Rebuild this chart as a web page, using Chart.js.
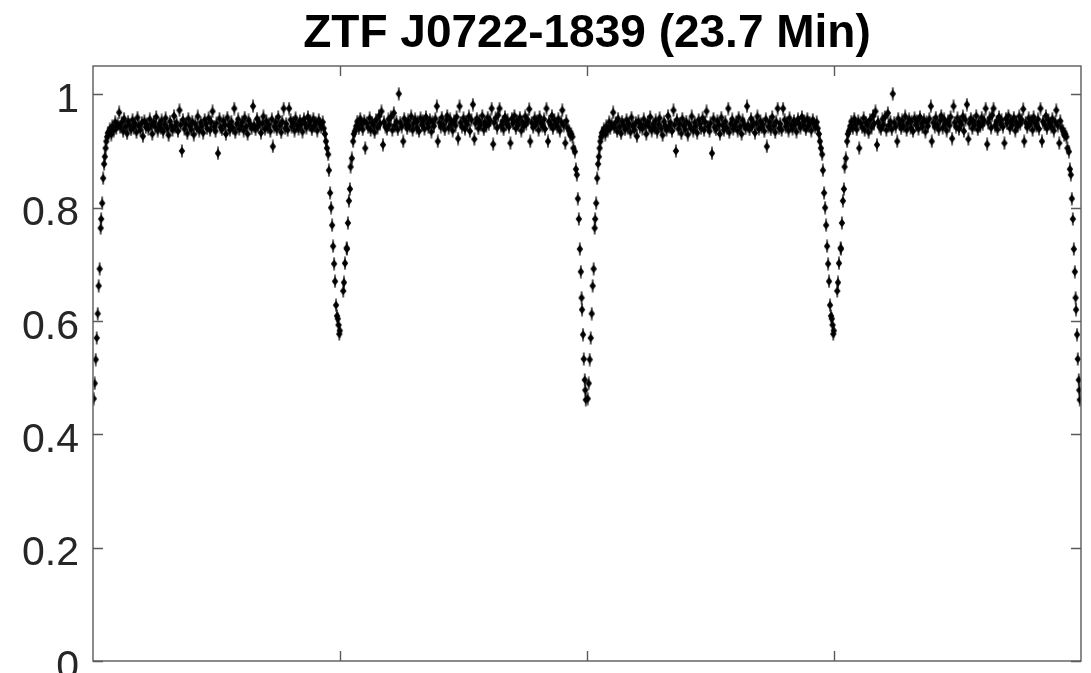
<!DOCTYPE html>
<html>
<head>
<meta charset="utf-8">
<title>ZTF J0722-1839</title>
<script src="https://cdn.jsdelivr.net/npm/chart.js@4.4.0/dist/chart.umd.min.js"></script>
<style>
  html, body { margin: 0; padding: 0; background: #fff; }
  #wrap { width: 1091px; height: 673px; }
</style>
</head>
<body>
<div id="wrap"><canvas id="lc" width="1091" height="673"></canvas></div>
<script>
var chartTitle = 'ZTF J0722-1839 (23.7 Min)';

// one folded period, plotted twice (phase and phase + 1)
var phase = [
  // deep eclipse egress
  0.0015, 0.0035, 0.0055, 0.0075, 0.0095, 0.0115, 0.0135, 0.0155, 0.0165, 0.0185,
  0.0205, 0.0225, 0.0240, 0.0255, 0.0270, 0.0285, 0.0300,
  // out of eclipse
  0.032, 0.034, 0.037, 0.039, 0.042, 0.045, 0.047, 0.050, 0.053, 0.055,
  0.058, 0.061, 0.063, 0.066, 0.069, 0.071, 0.074, 0.077, 0.080, 0.082,
  0.085, 0.088, 0.090, 0.093, 0.096, 0.099, 0.101, 0.104, 0.107, 0.109,
  0.112, 0.115, 0.118, 0.120, 0.123, 0.126, 0.128, 0.131, 0.134, 0.137,
  0.139, 0.142, 0.145, 0.147, 0.150, 0.153, 0.156, 0.158, 0.161, 0.164,
  0.166, 0.169, 0.172, 0.175, 0.177, 0.180, 0.182, 0.185, 0.188, 0.191,
  0.193, 0.196, 0.199, 0.201, 0.204, 0.207, 0.210, 0.212, 0.215, 0.218,
  0.220, 0.223, 0.226, 0.229, 0.231, 0.234, 0.237, 0.239, 0.242, 0.245,
  0.248, 0.250, 0.253, 0.256, 0.258, 0.261, 0.264, 0.267, 0.269, 0.272,
  0.275, 0.277, 0.280, 0.283, 0.286, 0.288, 0.291, 0.294, 0.296, 0.299,
  0.302, 0.305, 0.307, 0.310, 0.313, 0.315, 0.318, 0.321, 0.324, 0.326,
  0.329, 0.332, 0.334, 0.337, 0.340, 0.343, 0.345, 0.348, 0.351, 0.353,
  0.356, 0.359, 0.362, 0.364, 0.367, 0.370, 0.372, 0.375, 0.378, 0.381,
  0.383, 0.386, 0.389, 0.391, 0.394, 0.397, 0.400, 0.402, 0.405, 0.408,
  0.410, 0.413, 0.416, 0.419, 0.421, 0.424, 0.427, 0.429, 0.432, 0.435,
  0.438, 0.440, 0.443, 0.446, 0.448, 0.451, 0.454, 0.457, 0.459, 0.462,
  0.465, 0.467,
  // shallow eclipse
  0.4695, 0.4715, 0.4735, 0.4760, 0.4775, 0.4800, 0.4820, 0.4840, 0.4860, 0.4880,
  0.4900, 0.4920, 0.4940, 0.4955, 0.4970, 0.4985, 0.4995,
  0.5065, 0.5080, 0.5100, 0.5135, 0.5140, 0.5160, 0.5180, 0.5200, 0.5215, 0.5240,
  0.5265, 0.5280,
  // out of eclipse
  0.530, 0.533, 0.535, 0.538, 0.541, 0.543, 0.546, 0.549, 0.551, 0.554,
  0.557, 0.560, 0.562, 0.565, 0.568, 0.570, 0.573, 0.576, 0.579, 0.581,
  0.584, 0.587, 0.589, 0.592, 0.595, 0.598, 0.600, 0.603, 0.606, 0.609,
  0.611, 0.614, 0.617, 0.619, 0.622, 0.625, 0.628, 0.630, 0.633, 0.636,
  0.638, 0.641, 0.644, 0.647, 0.649, 0.652, 0.655, 0.657, 0.660, 0.663,
  0.666, 0.668, 0.671, 0.674, 0.677, 0.679, 0.682, 0.685, 0.687, 0.690,
  0.693, 0.696, 0.698, 0.701, 0.704, 0.706, 0.709, 0.712, 0.715, 0.717,
  0.720, 0.723, 0.725, 0.728, 0.731, 0.734, 0.736, 0.739, 0.742, 0.744,
  0.747, 0.750, 0.753, 0.755, 0.758, 0.761, 0.763, 0.766, 0.769, 0.772,
  0.774, 0.777, 0.780, 0.782, 0.785, 0.788, 0.791, 0.793, 0.796, 0.799,
  0.801, 0.804, 0.807, 0.810, 0.812, 0.815, 0.818, 0.820, 0.823, 0.826,
  0.829, 0.831, 0.834, 0.837, 0.839, 0.842, 0.845, 0.848, 0.850, 0.853,
  0.856, 0.858, 0.861, 0.864, 0.867, 0.869, 0.872, 0.875, 0.877, 0.880,
  0.883, 0.885, 0.888, 0.891, 0.894, 0.896, 0.899, 0.902, 0.904, 0.907,
  0.910, 0.913, 0.915, 0.918, 0.921, 0.923, 0.926, 0.929, 0.931, 0.934,
  0.937, 0.940, 0.942, 0.945, 0.948, 0.950, 0.953, 0.956, 0.958, 0.961,
  0.964, 0.966, 0.968,
  // deep eclipse ingress
  0.9705, 0.9725, 0.9755, 0.9775, 0.9795, 0.9815, 0.9835, 0.9855, 0.9875, 0.9890,
  0.9900, 0.9920, 0.9935, 0.9955, 0.9965, 0.9975
];

var flux = [
  0.463, 0.490, 0.532, 0.570, 0.613, 0.662, 0.692, 0.764, 0.780, 0.808,
  0.852, 0.877, 0.890, 0.905, 0.917, 0.925, 0.932,

  0.932, 0.938, 0.929, 0.944, 0.936, 0.951, 0.940, 0.947, 0.968, 0.942,
  0.950, 0.935, 0.957, 0.943, 0.931, 0.952, 0.946, 0.938, 0.955, 0.941,
  0.948, 0.933, 0.959, 0.944, 0.937, 0.950, 0.926, 0.953, 0.942, 0.947,
  0.939, 0.956, 0.945, 0.930, 0.951, 0.943, 0.960, 0.936, 0.948, 0.941,
  0.954, 0.934, 0.947, 0.958, 0.940, 0.928, 0.952, 0.945, 0.937, 0.962,
  0.943, 0.950, 0.935, 0.972, 0.946, 0.900, 0.955, 0.939, 0.948, 0.931,
  0.957, 0.944, 0.938, 0.952, 0.929, 0.947, 0.941, 0.961, 0.936, 0.950,
  0.944, 0.932, 0.955, 0.948, 0.940, 0.958, 0.937, 0.951, 0.970, 0.943,
  0.935, 0.949, 0.896, 0.957, 0.942, 0.938, 0.953, 0.946, 0.930, 0.959,
  0.945, 0.937, 0.952, 0.941, 0.975, 0.933, 0.948, 0.956, 0.939, 0.944,
  0.951, 0.936, 0.959, 0.943, 0.930, 0.954, 0.947, 0.940, 0.979, 0.945,
  0.938, 0.957, 0.944, 0.950, 0.932, 0.948, 0.961, 0.939, 0.953, 0.942,
  0.947, 0.935, 0.956, 0.908, 0.943, 0.951, 0.938, 0.960, 0.945, 0.933,
  0.952, 0.975, 0.940, 0.948, 0.937, 0.975, 0.955, 0.943, 0.950, 0.936,
  0.958, 0.945, 0.939, 0.953, 0.947, 0.934, 0.956, 0.949, 0.941, 0.960,
  0.946, 0.953, 0.938, 0.957, 0.944, 0.950, 0.936, 0.955, 0.948, 0.942,
  0.951, 0.940,

  0.930, 0.917, 0.905, 0.894, 0.866, 0.826, 0.800, 0.769, 0.732, 0.701,
  0.670, 0.628, 0.609, 0.604, 0.593, 0.577, 0.583,
  0.653, 0.668, 0.702, 0.729, 0.727, 0.773, 0.812, 0.833, 0.872, 0.887,
  0.917, 0.930,

  0.935, 0.944, 0.952, 0.940, 0.957, 0.947, 0.938, 0.953, 0.905, 0.949,
  0.942, 0.958, 0.937, 0.950, 0.946, 0.933, 0.955, 0.941, 0.962, 0.948,
  0.970, 0.911, 0.951, 0.943, 0.939, 0.956, 0.946, 0.960, 0.937, 0.967,
  0.945, 0.952, 0.938, 1.001, 0.950, 0.943, 0.917, 0.957, 0.947, 0.940,
  0.954, 0.944, 0.961, 0.937, 0.949, 0.956, 0.941, 0.952, 0.935, 0.958,
  0.946, 0.953, 0.939, 0.960, 0.948, 0.942, 0.955, 0.934, 0.951, 0.944,
  0.957, 0.979, 0.917, 0.950, 0.943, 0.959, 0.946, 0.938, 0.954, 0.962,
  0.941, 0.956, 0.948, 0.936, 0.953, 0.945, 0.960, 0.922, 0.979, 0.950,
  0.943, 0.958, 0.939, 0.952, 0.947, 0.961, 0.935, 0.955, 0.982, 0.921,
  0.949, 0.957, 0.940, 0.953, 0.946, 0.962, 0.938, 0.951, 0.944, 0.959,
  0.947, 0.954, 0.975, 0.912, 0.950, 0.958, 0.941, 0.963, 0.975, 0.945,
  0.952, 0.938, 0.960, 0.947, 0.955, 0.943, 0.914, 0.957, 0.949, 0.962,
  0.940, 0.953, 0.946, 0.959, 0.936, 0.951, 0.944, 0.961, 0.948, 0.955,
  0.974, 0.917, 0.950, 0.942, 0.958, 0.946, 0.953, 0.937, 0.960, 0.949,
  0.944, 0.956, 0.939, 0.975, 0.917, 0.952, 0.947, 0.962, 0.940, 0.955,
  0.948, 0.943, 0.957, 0.936, 0.951, 0.972, 0.945, 0.914, 0.953, 0.940,
  0.935, 0.928, 0.930,

  0.925, 0.905, 0.899, 0.868, 0.858, 0.816, 0.780, 0.727, 0.687, 0.641,
  0.620, 0.576, 0.533, 0.496, 0.478, 0.461
];

var cycles = [0, 1];
var xTicks = [0.5, 1, 1.5];
var yTicks = [0, 0.2, 0.4, 0.6, 0.8, 1];
var yTickLabels = ['0', '0.2', '0.4', '0.6', '0.8', '1'];

// small diamond with a vertical error bar, like the matlab errorbar marker
function errMarker() {
    var c = document.createElement('canvas');
    c.width = 8;
    c.height = 14;
    var g = c.getContext('2d');
    g.strokeStyle = '#000';
    g.lineWidth = 1.3;
    g.beginPath();
    g.moveTo(4, 0.5);
    g.lineTo(4, 13.5);
    g.stroke();
    g.fillStyle = '#000';
    g.beginPath();
    g.moveTo(4, 2.5);
    g.lineTo(7.2, 7);
    g.lineTo(4, 11.5);
    g.lineTo(0.8, 7);
    g.closePath();
    g.fill();
    return c;
}

var points = [];
cycles.forEach(function (k) {
    phase.forEach(function (p, i) {
        points.push({ x: p + k, y: flux[i] });
    });
});

// box, inward ticks, tick labels and title in matlab style
var matlabAxes = {
    id: 'matlabAxes',
    afterDraw: function (chart) {
        var ctx = chart.ctx;
        var a = chart.chartArea;
        var xs = chart.scales.x;
        var ys = chart.scales.y;
        var tl = 10;

        ctx.save();
        ctx.strokeStyle = '#5a5a5a';
        ctx.lineWidth = 1.4;
        ctx.strokeRect(a.left, a.top, a.right - a.left, a.bottom - a.top);

        ctx.beginPath();
        xTicks.forEach(function (v) {
            var px = Math.round(xs.getPixelForValue(v)) + 0.5;
            ctx.moveTo(px, a.bottom);
            ctx.lineTo(px, a.bottom - tl);
            ctx.moveTo(px, a.top);
            ctx.lineTo(px, a.top + tl);
        });
        yTicks.forEach(function (v) {
            var py = Math.round(ys.getPixelForValue(v)) + 0.5;
            ctx.moveTo(a.left, py);
            ctx.lineTo(a.left + tl, py);
            ctx.moveTo(a.right, py);
            ctx.lineTo(a.right - tl, py);
        });
        ctx.stroke();

        ctx.fillStyle = '#262626';
        ctx.font = '41px "Liberation Sans", Arial, sans-serif';
        ctx.textAlign = 'right';
        ctx.textBaseline = 'alphabetic';
        yTicks.forEach(function (v, i) {
            ctx.fillText(yTickLabels[i], a.left - 14, ys.getPixelForValue(v) + 17.5);
        });

        ctx.fillStyle = '#000';
        ctx.font = 'bold 46px "Liberation Sans", Arial, sans-serif';
        ctx.textAlign = 'center';
        ctx.fillText(chartTitle, (a.left + a.right) / 2, 47);
        ctx.restore();
    }
};

window.onload = function () {
    var ctx = document.getElementById('lc').getContext('2d');
    window.lcChart = new Chart(ctx, {
        type: 'scatter',
        data: {
            datasets: [{
                label: 'flux',
                data: points,
                pointStyle: errMarker(),
                pointRadius: 3,
                backgroundColor: '#000',
                borderColor: '#000'
            }]
        },
        options: {
            responsive: false,
            animation: false,
            devicePixelRatio: 1,
            layout: {
                padding: { left: 93, right: 10, top: 66, bottom: 12 }
            },
            scales: {
                x: { type: 'linear', min: 0, max: 2, display: false },
                y: { type: 'linear', min: 0, max: 1.05, display: false }
            },
            plugins: {
                legend: { display: false },
                title: { display: false },
                tooltip: { enabled: false }
            }
        },
        plugins: [matlabAxes]
    });
};
</script>
</body>
</html>
